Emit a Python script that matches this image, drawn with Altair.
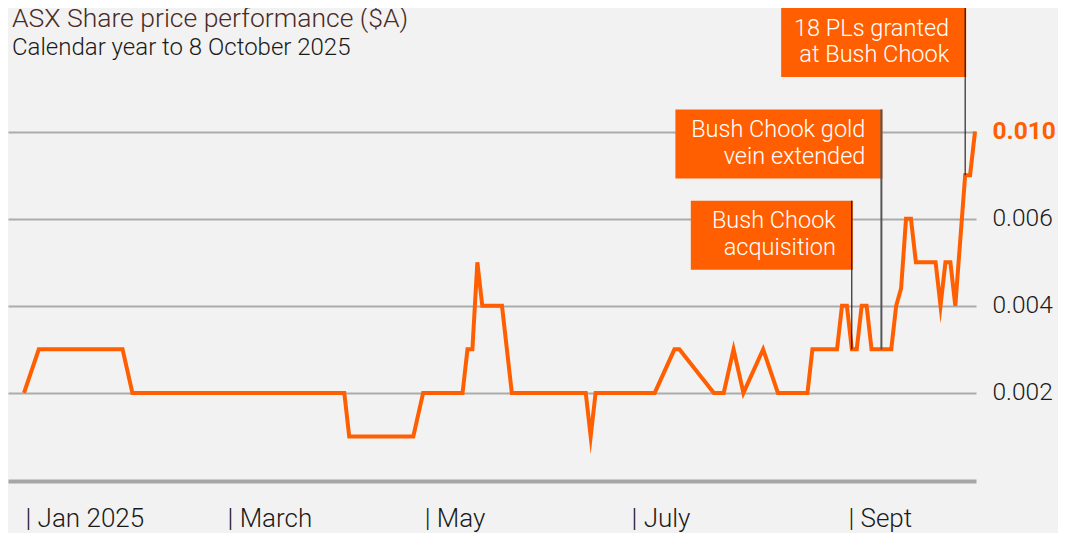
import altair as alt
import numpy as np
import pandas as pd

# ---------------- data ----------------
title_text = "ASX Share price performance ($A)"
subtitle_text = "Calendar year to 8 October 2025"

# ASX market holidays in 2025 (the chart's x axis runs in trading days)
holidays = ["2025-01-01", "2025-01-27", "2025-04-18", "2025-04-21", "2025-04-25", "2025-06-09"]

dates = ["2025-01-02", "2025-01-07", "2025-01-31", "2025-02-04", "2025-04-04", "2025-04-07",
         "2025-04-29", "2025-05-01", "2025-05-13", "2025-05-14", "2025-05-15", "2025-05-16",
         "2025-05-19", "2025-05-23", "2025-05-27", "2025-06-18", "2025-06-19", "2025-06-20",
         "2025-07-08", "2025-07-14", "2025-07-15", "2025-07-24", "2025-07-28", "2025-07-30",
         "2025-08-01", "2025-08-07", "2025-08-12", "2025-08-20", "2025-08-21", "2025-08-28",
         "2025-08-29", "2025-09-01", "2025-09-02", "2025-09-03", "2025-09-04", "2025-09-05",
         "2025-09-08", "2025-09-12", "2025-09-15", "2025-09-16", "2025-09-17", "2025-09-18",
         "2025-09-19", "2025-09-25", "2025-09-26", "2025-09-29", "2025-09-30", "2025-10-01",
         "2025-10-03", "2025-10-06", "2025-10-07"]
prices = [0.002, 0.003, 0.003, 0.002, 0.002, 0.001,
          0.001, 0.002, 0.002, 0.003, 0.003, 0.005,
          0.004, 0.004, 0.002, 0.002, 0.001, 0.002,
          0.002, 0.003, 0.003, 0.002, 0.002, 0.003,
          0.002, 0.003, 0.002, 0.002, 0.003, 0.003,
          0.004, 0.004, 0.003, 0.003, 0.004, 0.004,
          0.003, 0.003, 0.004, 0.0044, 0.006, 0.006,
          0.005, 0.005, 0.004, 0.005, 0.005, 0.004,
          0.008, 0.008, 0.010]

tick_dates = ["2025-01-02", "2025-03-03", "2025-05-01", "2025-07-01", "2025-09-01"]
tick_labels = ["| Jan 2025", "| March", "| May", "| July", "| Sept"]

y_tick_values = [0.002, 0.004, 0.006, 0.010]

event_dates = ["2025-10-03", "2025-09-10", "2025-09-02"]
event_prices = [0.008, 0.003, 0.003]
event_labels = [["18 PLs granted", "at Bush Chook"],
                ["Bush Chook gold", "vein extended"],
                ["Bush Chook", "acquisition"]]

# ---------------- styles ----------------
ORANGE = "#ff5f00"
BG = "#f2f2f2"
GRID = "#ababab"
TEXT = "#1a1a1a"
FONT = "Roboto"

W, H = 968, 472
box_width = [184, 206, 161]
box_top = [0, 101.5, 192.7]
box_height = [69, 69, 69]
rule_color = ["#000000", "#555555", "#000000"]
rule_width = [1, 2, 1]


def tday(d):
    return int(np.busday_count("2025-01-02", d, holidays=holidays))


# the chart squeezes the part above 0.006 to half scale
POS = "datum.price <= 0.006 ? datum.price : 0.006 + (datum.price - 0.006) / 2"


def pos(v):
    return v if v <= 0.006 else 0.006 + (v - 0.006) / 2


price_df = pd.DataFrame({"date": dates, "price": prices,
                         "tday": [tday(d) for d in dates]})

tick_vals = [tday(d) for d in tick_dates]
x_label_expr = "".join(f"datum.value == {v} ? '{l}' : " for v, l in zip(tick_vals, tick_labels)) + "''"

x_scale = alt.Scale(domain=[-3.25, 193.2], nice=False, zero=False)
y_scale = alt.Scale(domain=[0, 0.010838], nice=False, zero=False)

line = alt.Chart(price_df).transform_calculate(pos=POS).mark_line(
    color=ORANGE, strokeWidth=4, strokeJoin="miter", strokeMiterLimit=10
).encode(
    x=alt.X("tday:Q", scale=x_scale, axis=alt.Axis(
        values=tick_vals, labelExpr=x_label_expr, title=None, grid=False,
        ticks=False, tickSize=0, domainColor="#a6a6a6", domainWidth=4, offset=1,
        labelAlign="left", labelBaseline="alphabetic", labelPadding=45, labelOffset=1,
        labelFont=FONT, labelFontWeight=300, labelFontSize=26, labelColor=TEXT,
        labelFlush=False, labelOverlap=False, labelBound=False)),
    y=alt.Y("pos:Q", scale=y_scale, axis=alt.Axis(
        orient="right", values=[pos(v) for v in y_tick_values],
        labelExpr="format(datum.value <= 0.006 ? datum.value : 0.006 + (datum.value - 0.006) * 2, '.3f')",
        title=None, grid=True, gridColor=GRID, gridWidth=2, domain=False, ticks=False,
        tickSize=0, labelPadding=16, labelFont=FONT, labelFontSize=24.5,
        labelColor=alt.expr("datum.value > 0.0065 ? '" + ORANGE + "' : '" + TEXT + "'"),
        labelFontWeight=alt.expr("datum.value > 0.0065 ? 700 : 300"))),
)

layers = [line]
for i in range(len(event_dates)):
    ev = pd.DataFrame({"date": [event_dates[i]], "price": [event_prices[i]],
                       "tday": [tday(event_dates[i])], "label": [event_labels[i]]})
    base = alt.Chart(ev).transform_calculate(pos=POS)
    box = base.mark_rect(color=ORANGE, xOffset=-box_width[i], x2Offset=1).encode(
        x=alt.X("tday:Q"),
        x2="tday:Q",
        y=alt.value(box_top[i]),
        y2=alt.value(box_top[i] + box_height[i]),
    )
    txt = base.mark_text(color="white", font=FONT, fontWeight=300, fontSize=23.5,
                         align="right", baseline="alphabetic", dx=-16,
                         lineHeight=26.5).encode(
        x=alt.X("tday:Q"),
        y=alt.value(box_top[i] + 27.5),
        text="label",
    )
    rule = base.mark_rule(color=rule_color[i], strokeWidth=rule_width[i]).encode(
        x=alt.X("tday:Q"),
        y=alt.Y("pos:Q"),
        y2=alt.value(box_top[i]),
    )
    layers += [box, txt, rule]

title_df = pd.DataFrame({"t": [title_text]})
sub_df = pd.DataFrame({"t": [subtitle_text]})
title = alt.Chart(title_df).mark_text(font=FONT, fontWeight=300, fontSize=26.5, color="#4a2b25",
                                      align="left", baseline="alphabetic").encode(
    x=alt.value(4), y=alt.value(18.5), text="t:N")
subtitle = alt.Chart(sub_df).mark_text(font=FONT, fontWeight=300, fontSize=24, color=TEXT,
                                       align="left", baseline="alphabetic").encode(
    x=alt.value(4), y=alt.value(47), text="t:N")
layers += [title, subtitle]

chart = alt.layer(*layers).properties(
    width=W, height=H,
    autosize=alt.AutoSizeParams(type="none"),
    padding={"left": 0, "top": 0, "right": 82, "bottom": 53},
    background=BG,
).configure_view(stroke=None)

chart.save("out.html", embed_options={"renderer": "svg", "actions": False})
